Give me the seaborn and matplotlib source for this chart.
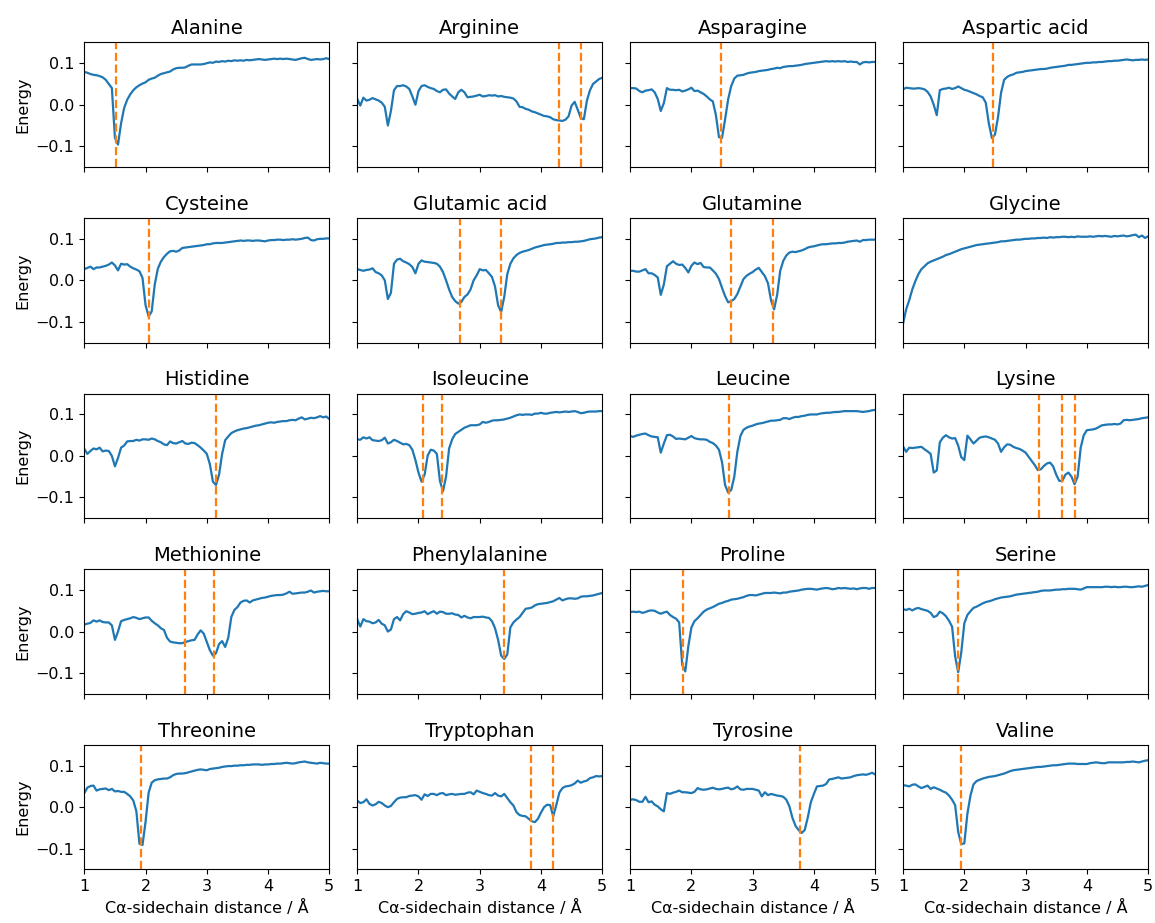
import numpy as np
import matplotlib
matplotlib.use("Agg")
import matplotlib.pyplot as plt
import seaborn as sns

# sampling positions along the C-alpha / sidechain distance (Å)
distance = np.round(np.linspace(1.0, 5.0, 81), 2)

names = ["Alanine", "Arginine", "Asparagine", "Aspartic acid",
         "Cysteine", "Glutamic acid", "Glutamine", "Glycine",
         "Histidine", "Isoleucine", "Leucine", "Lysine",
         "Methionine", "Phenylalanine", "Proline", "Serine",
         "Threonine", "Tryptophan", "Tyrosine", "Valine"]

# energy curves, one value every 0.05 Å from 1.00 to 5.00
alanine = [0.079, 0.077, 0.074, 0.072, 0.071, 0.069, 0.066, 0.060, 0.050, 0.040,
           -0.080, -0.096, -0.045, -0.008, 0.012, 0.025, 0.035, 0.042, 0.047, 0.051,
           0.054, 0.060, 0.063, 0.065, 0.070, 0.074, 0.076, 0.078, 0.080, 0.085,
           0.088, 0.089, 0.089, 0.090, 0.094, 0.097, 0.097, 0.097, 0.097, 0.098,
           0.100, 0.102, 0.101, 0.104, 0.103, 0.105, 0.104, 0.106, 0.105, 0.107,
           0.106, 0.107, 0.106, 0.108, 0.107, 0.108, 0.109, 0.110, 0.109, 0.108,
           0.109, 0.110, 0.111, 0.110, 0.111, 0.110, 0.111, 0.110, 0.109, 0.108,
           0.110, 0.112, 0.113, 0.110, 0.108, 0.109, 0.110, 0.109, 0.110, 0.112,
           0.110]
arginine = [0.014, -0.002, 0.017, 0.010, 0.012, 0.016, 0.013, 0.010, 0.005, -0.005,
            -0.050, -0.015, 0.035, 0.045, 0.045, 0.047, 0.044, 0.038, 0.020, 0.000,
            0.033, 0.045, 0.047, 0.043, 0.040, 0.038, 0.033, 0.030, 0.036, 0.037,
            0.027, 0.020, 0.014, 0.030, 0.036, 0.030, 0.018, 0.019, 0.020, 0.022,
            0.024, 0.020, 0.021, 0.023, 0.022, 0.023, 0.020, 0.021, 0.019, 0.018,
            0.017, 0.015, 0.008, -0.005, -0.006, -0.010, -0.012, -0.016, -0.018, -0.021,
            -0.024, -0.027, -0.028, -0.030, -0.035, -0.037, -0.038, -0.039, -0.036, -0.028,
            -0.002, 0.007, -0.012, -0.032, -0.035, 0.010, 0.035, 0.050, 0.056, 0.062,
            0.065]
asparagine = [0.040, 0.040, 0.039, 0.033, 0.030, 0.034, 0.035, 0.037, 0.030, 0.014,
              -0.015, 0.004, 0.040, 0.036, 0.036, 0.035, 0.036, 0.032, 0.034, 0.037,
              0.041, 0.033, 0.034, 0.030, 0.026, 0.020, 0.013, 0.008, -0.025, -0.078,
              -0.080, -0.035, 0.013, 0.045, 0.063, 0.070, 0.071, 0.072, 0.075, 0.077,
              0.078, 0.079, 0.081, 0.082, 0.083, 0.084, 0.086, 0.087, 0.089, 0.088,
              0.091, 0.092, 0.093, 0.093, 0.094, 0.095, 0.096, 0.098, 0.099, 0.100,
              0.101, 0.102, 0.103, 0.104, 0.105, 0.104, 0.105, 0.104, 0.105, 0.104,
              0.105, 0.103, 0.104, 0.103, 0.103, 0.097, 0.102, 0.103, 0.102, 0.103,
              0.103]
aspartic_acid = [0.037, 0.041, 0.040, 0.039, 0.039, 0.040, 0.039, 0.037, 0.031, 0.020,
                 0.000, -0.025, 0.035, 0.038, 0.039, 0.041, 0.038, 0.040, 0.044, 0.040,
                 0.036, 0.034, 0.031, 0.028, 0.025, 0.021, 0.018, 0.005, -0.045, -0.080,
                 -0.072, -0.030, 0.029, 0.060, 0.067, 0.071, 0.073, 0.077, 0.078, 0.079,
                 0.081, 0.082, 0.083, 0.084, 0.085, 0.086, 0.086, 0.087, 0.089, 0.090,
                 0.091, 0.092, 0.093, 0.094, 0.096, 0.096, 0.097, 0.098, 0.099, 0.100,
                 0.101, 0.101, 0.102, 0.102, 0.103, 0.103, 0.104, 0.105, 0.105, 0.106,
                 0.106, 0.107, 0.108, 0.109, 0.108, 0.107, 0.108, 0.108, 0.109, 0.108,
                 0.109]
cysteine = [0.027, 0.030, 0.033, 0.027, 0.031, 0.031, 0.033, 0.035, 0.038, 0.043,
            0.036, 0.024, 0.040, 0.038, 0.039, 0.033, 0.029, 0.026, 0.022, 0.006,
            -0.060, -0.087, -0.075, -0.010, 0.028, 0.045, 0.056, 0.064, 0.070, 0.071,
            0.069, 0.072, 0.078, 0.079, 0.080, 0.081, 0.082, 0.083, 0.084, 0.085,
            0.087, 0.087, 0.089, 0.090, 0.090, 0.090, 0.091, 0.092, 0.093, 0.094,
            0.095, 0.096, 0.095, 0.096, 0.096, 0.095, 0.096, 0.096, 0.095, 0.094,
            0.096, 0.097, 0.097, 0.098, 0.098, 0.097, 0.098, 0.098, 0.099, 0.098,
            0.099, 0.100, 0.102, 0.103, 0.097, 0.096, 0.099, 0.100, 0.100, 0.101,
            0.101]
glutamic_acid = [0.027, 0.025, 0.023, 0.025, 0.026, 0.029, 0.020, 0.017, 0.012, 0.000,
                 -0.045, -0.030, 0.040, 0.050, 0.052, 0.046, 0.043, 0.039, 0.032, 0.017,
                 0.040, 0.048, 0.045, 0.044, 0.043, 0.042, 0.040, 0.033, 0.020, 0.000,
                 -0.022, -0.040, -0.050, -0.056, -0.052, -0.040, -0.034, -0.022, 0.000, 0.012,
                 0.027, 0.024, 0.025, 0.017, 0.008, -0.015, -0.060, -0.076, -0.040, 0.015,
                 0.040, 0.053, 0.061, 0.066, 0.069, 0.071, 0.073, 0.076, 0.079, 0.081,
                 0.083, 0.085, 0.086, 0.087, 0.088, 0.090, 0.090, 0.091, 0.091, 0.092,
                 0.092, 0.093, 0.093, 0.094, 0.095, 0.097, 0.099, 0.100, 0.101, 0.103,
                 0.104]
glutamine = [0.023, 0.023, 0.021, 0.021, 0.024, 0.027, 0.017, 0.017, 0.013, 0.007,
             -0.035, -0.010, 0.034, 0.040, 0.046, 0.040, 0.037, 0.038, 0.030, 0.019,
             0.035, 0.043, 0.039, 0.042, 0.032, 0.031, 0.031, 0.024, 0.016, 0.003,
             -0.018, -0.038, -0.053, -0.050, -0.045, -0.033, -0.015, 0.003, 0.011, 0.016,
             0.020, 0.026, 0.030, 0.020, 0.010, -0.007, -0.048, -0.070, -0.035, 0.023,
             0.047, 0.060, 0.067, 0.069, 0.068, 0.070, 0.072, 0.075, 0.079, 0.081,
             0.082, 0.084, 0.086, 0.087, 0.087, 0.088, 0.089, 0.089, 0.090, 0.090,
             0.091, 0.093, 0.094, 0.095, 0.096, 0.093, 0.097, 0.097, 0.098, 0.098,
             0.098]
glycine = [-0.104, -0.070, -0.048, -0.022, -0.002, 0.015, 0.027, 0.034, 0.041, 0.045,
           0.048, 0.051, 0.054, 0.057, 0.061, 0.063, 0.066, 0.069, 0.072, 0.075,
           0.077, 0.079, 0.081, 0.083, 0.085, 0.086, 0.087, 0.088, 0.089, 0.090,
           0.091, 0.092, 0.094, 0.094, 0.095, 0.096, 0.097, 0.098, 0.098, 0.099,
           0.100, 0.100, 0.101, 0.101, 0.102, 0.102, 0.103, 0.102, 0.104, 0.103,
           0.104, 0.104, 0.105, 0.105, 0.104, 0.105, 0.104, 0.106, 0.105, 0.105,
           0.105, 0.106, 0.105, 0.106, 0.107, 0.106, 0.107, 0.106, 0.105, 0.107,
           0.106, 0.107, 0.108, 0.106, 0.107, 0.109, 0.110, 0.104, 0.108, 0.102,
           0.106]
histidine = [0.017, 0.005, 0.012, 0.018, 0.016, 0.020, 0.011, 0.013, 0.012, 0.000,
             -0.025, -0.005, 0.020, 0.025, 0.035, 0.036, 0.036, 0.039, 0.037, 0.040,
             0.040, 0.039, 0.042, 0.040, 0.036, 0.033, 0.028, 0.026, 0.035, 0.031,
             0.030, 0.033, 0.036, 0.030, 0.029, 0.032, 0.031, 0.026, 0.020, 0.013,
             0.005, -0.020, -0.062, -0.070, -0.045, 0.005, 0.038, 0.047, 0.055, 0.059,
             0.062, 0.064, 0.066, 0.067, 0.069, 0.071, 0.073, 0.074, 0.076, 0.078,
             0.080, 0.081, 0.080, 0.082, 0.083, 0.084, 0.084, 0.086, 0.087, 0.086,
             0.090, 0.093, 0.088, 0.090, 0.092, 0.091, 0.093, 0.096, 0.093, 0.095,
             0.089]
isoleucine = [0.040, 0.039, 0.045, 0.042, 0.045, 0.038, 0.037, 0.036, 0.038, 0.044,
              0.030, 0.033, 0.039, 0.036, 0.032, 0.028, 0.029, 0.026, 0.015, -0.010,
              -0.040, -0.062, -0.045, 0.001, 0.015, 0.013, 0.005, -0.060, -0.085, -0.050,
              0.018, 0.040, 0.053, 0.058, 0.063, 0.068, 0.071, 0.074, 0.074, 0.074,
              0.076, 0.082, 0.080, 0.082, 0.085, 0.086, 0.086, 0.087, 0.088, 0.090,
              0.092, 0.095, 0.098, 0.100, 0.099, 0.100, 0.100, 0.099, 0.102, 0.102,
              0.104, 0.102, 0.102, 0.104, 0.105, 0.106, 0.105, 0.106, 0.107, 0.106,
              0.107, 0.108, 0.106, 0.103, 0.104, 0.106, 0.107, 0.107, 0.107, 0.108,
              0.108]
leucine = [0.048, 0.046, 0.049, 0.051, 0.053, 0.054, 0.050, 0.047, 0.046, 0.045,
           0.008, 0.030, 0.050, 0.051, 0.047, 0.041, 0.042, 0.041, 0.040, 0.044,
           0.048, 0.043, 0.041, 0.040, 0.040, 0.039, 0.034, 0.031, 0.025, 0.015,
           -0.015, -0.070, -0.088, -0.082, -0.050, 0.010, 0.048, 0.063, 0.068, 0.071,
           0.073, 0.076, 0.078, 0.079, 0.081, 0.083, 0.085, 0.085, 0.086, 0.087,
           0.091, 0.091, 0.089, 0.092, 0.094, 0.094, 0.096, 0.097, 0.099, 0.100,
           0.100, 0.100, 0.102, 0.103, 0.104, 0.104, 0.105, 0.106, 0.106, 0.107,
           0.108, 0.108, 0.108, 0.108, 0.108, 0.107, 0.106, 0.107, 0.108, 0.110,
           0.111]
lysine = [0.023, 0.010, 0.020, 0.019, 0.020, 0.021, 0.022, 0.016, 0.011, 0.005,
          -0.040, -0.035, 0.033, 0.044, 0.050, 0.045, 0.042, 0.043, 0.025, -0.003,
          -0.010, 0.049, 0.040, 0.030, 0.037, 0.044, 0.046, 0.047, 0.045, 0.042,
          0.039, 0.030, 0.010, 0.021, 0.028, 0.027, 0.022, 0.019, 0.017, 0.013,
          0.008, -0.002, -0.012, -0.022, -0.034, -0.032, -0.024, -0.018, -0.016, -0.025,
          -0.045, -0.060, -0.060, -0.045, -0.040, -0.050, -0.068, -0.050, 0.020, 0.050,
          0.062, 0.063, 0.064, 0.066, 0.070, 0.074, 0.075, 0.076, 0.076, 0.077,
          0.076, 0.078, 0.086, 0.087, 0.086, 0.087, 0.088, 0.089, 0.091, 0.092,
          0.093]
methionine = [0.017, 0.019, 0.021, 0.027, 0.024, 0.027, 0.023, 0.022, 0.022, 0.015,
              -0.020, 0.000, 0.025, 0.028, 0.030, 0.032, 0.035, 0.033, 0.030, 0.032,
              0.034, 0.034, 0.026, 0.020, 0.015, 0.008, 0.004, -0.015, -0.024, -0.026,
              -0.027, -0.028, -0.028, -0.025, -0.023, -0.021, -0.020, -0.007, 0.003, -0.005,
              -0.025, -0.045, -0.058, -0.052, -0.030, -0.023, -0.037, -0.015, 0.035, 0.052,
              0.059, 0.070, 0.074, 0.075, 0.070, 0.075, 0.077, 0.079, 0.081, 0.082,
              0.084, 0.086, 0.087, 0.088, 0.088, 0.089, 0.092, 0.096, 0.091, 0.092,
              0.093, 0.094, 0.094, 0.096, 0.099, 0.094, 0.096, 0.097, 0.098, 0.097,
              0.097]
phenylalanine = [0.030, 0.012, 0.030, 0.025, 0.024, 0.020, 0.022, 0.028, 0.019, 0.015,
                 0.000, 0.005, 0.030, 0.035, 0.027, 0.042, 0.049, 0.046, 0.042, 0.043,
                 0.045, 0.046, 0.049, 0.042, 0.046, 0.049, 0.043, 0.048, 0.047, 0.043,
                 0.043, 0.044, 0.041, 0.040, 0.034, 0.038, 0.034, 0.032, 0.035, 0.035,
                 0.035, 0.036, 0.034, 0.033, 0.025, 0.008, -0.020, -0.058, -0.066, -0.055,
                 0.010, 0.022, 0.029, 0.035, 0.045, 0.055, 0.056, 0.058, 0.063, 0.066,
                 0.067, 0.068, 0.069, 0.071, 0.073, 0.077, 0.081, 0.075, 0.078, 0.080,
                 0.080, 0.079, 0.080, 0.084, 0.085, 0.085, 0.086, 0.087, 0.089, 0.091,
                 0.093]
proline = [0.047, 0.048, 0.047, 0.048, 0.045, 0.047, 0.050, 0.051, 0.050, 0.046,
           0.043, 0.046, 0.048, 0.040, 0.035, 0.031, 0.022, -0.080, -0.096, -0.035,
           0.010, 0.025, 0.032, 0.040, 0.048, 0.053, 0.056, 0.059, 0.063, 0.067,
           0.069, 0.072, 0.074, 0.077, 0.078, 0.079, 0.081, 0.083, 0.086, 0.088,
           0.088, 0.087, 0.089, 0.091, 0.093, 0.093, 0.093, 0.094, 0.093, 0.092,
           0.094, 0.094, 0.096, 0.097, 0.098, 0.099, 0.101, 0.102, 0.103, 0.103,
           0.102, 0.101, 0.103, 0.104, 0.105, 0.104, 0.102, 0.103, 0.105, 0.104,
           0.105, 0.104, 0.103, 0.104, 0.102, 0.104, 0.105, 0.105, 0.103, 0.105,
           0.105]
serine = [0.054, 0.052, 0.055, 0.051, 0.055, 0.057, 0.054, 0.052, 0.050, 0.045,
          0.035, 0.038, 0.048, 0.044, 0.037, 0.026, 0.012, -0.060, -0.098, -0.050,
          0.020, 0.040, 0.049, 0.057, 0.060, 0.064, 0.068, 0.071, 0.073, 0.075,
          0.078, 0.080, 0.082, 0.083, 0.084, 0.085, 0.087, 0.089, 0.090, 0.091,
          0.092, 0.093, 0.094, 0.095, 0.096, 0.098, 0.099, 0.099, 0.099, 0.100,
          0.101, 0.101, 0.102, 0.102, 0.103, 0.103, 0.103, 0.102, 0.101, 0.104,
          0.107, 0.107, 0.107, 0.107, 0.107, 0.107, 0.108, 0.108, 0.107, 0.108,
          0.107, 0.107, 0.108, 0.108, 0.107, 0.107, 0.108, 0.109, 0.108, 0.110,
          0.112]
threonine = [0.034, 0.047, 0.051, 0.052, 0.040, 0.043, 0.044, 0.045, 0.041, 0.044,
             0.038, 0.039, 0.037, 0.037, 0.032, 0.026, 0.016, -0.010, -0.088, -0.091,
             -0.035, 0.035, 0.059, 0.065, 0.067, 0.068, 0.069, 0.069, 0.072, 0.077,
             0.080, 0.081, 0.081, 0.082, 0.084, 0.086, 0.088, 0.090, 0.091, 0.090,
             0.089, 0.092, 0.093, 0.094, 0.095, 0.097, 0.098, 0.099, 0.099, 0.100,
             0.100, 0.101, 0.101, 0.102, 0.102, 0.103, 0.103, 0.103, 0.102, 0.103,
             0.103, 0.104, 0.104, 0.105, 0.105, 0.106, 0.107, 0.106, 0.105, 0.106,
             0.108, 0.109, 0.110, 0.108, 0.107, 0.106, 0.105, 0.107, 0.106, 0.105,
             0.105]
tryptophan = [0.016, 0.010, 0.012, 0.019, 0.008, 0.004, 0.007, 0.013, 0.010, 0.004,
              0.000, 0.003, 0.012, 0.020, 0.023, 0.024, 0.024, 0.027, 0.028, 0.029,
              0.026, 0.018, 0.031, 0.027, 0.032, 0.032, 0.029, 0.033, 0.034, 0.029,
              0.031, 0.032, 0.030, 0.031, 0.032, 0.032, 0.035, 0.036, 0.031, 0.040,
              0.037, 0.034, 0.032, 0.029, 0.028, 0.034, 0.028, 0.026, 0.032, 0.022,
              0.012, 0.004, -0.012, -0.019, -0.021, -0.022, -0.028, -0.034, -0.036, -0.028,
              -0.013, 0.000, 0.006, 0.005, -0.022, 0.005, 0.035, 0.046, 0.050, 0.051,
              0.053, 0.057, 0.064, 0.059, 0.062, 0.064, 0.070, 0.072, 0.075, 0.074,
              0.075]
tyrosine = [0.018, 0.019, 0.017, 0.013, 0.013, 0.025, 0.012, 0.014, 0.006, 0.002,
            -0.005, -0.010, 0.034, 0.032, 0.035, 0.037, 0.040, 0.036, 0.036, 0.035,
            0.034, 0.037, 0.046, 0.043, 0.042, 0.043, 0.045, 0.047, 0.044, 0.043,
            0.044, 0.046, 0.047, 0.043, 0.045, 0.050, 0.043, 0.042, 0.044, 0.044,
            0.044, 0.042, 0.040, 0.026, 0.036, 0.029, 0.032, 0.030, 0.028, 0.027,
            0.025, 0.018, 0.002, -0.026, -0.045, -0.055, -0.062, -0.055, -0.025, 0.012,
            0.032, 0.050, 0.051, 0.052, 0.056, 0.067, 0.068, 0.070, 0.072, 0.069,
            0.070, 0.071, 0.072, 0.075, 0.077, 0.078, 0.079, 0.078, 0.080, 0.083,
            0.079]
valine = [0.053, 0.052, 0.050, 0.054, 0.055, 0.050, 0.046, 0.049, 0.052, 0.044,
          0.048, 0.045, 0.042, 0.038, 0.035, 0.028, 0.018, 0.005, -0.060, -0.089,
          -0.087, -0.016, 0.028, 0.055, 0.063, 0.066, 0.069, 0.071, 0.073, 0.074,
          0.075, 0.077, 0.079, 0.081, 0.084, 0.087, 0.089, 0.090, 0.091, 0.092,
          0.093, 0.094, 0.095, 0.096, 0.097, 0.097, 0.098, 0.099, 0.100, 0.101,
          0.101, 0.102, 0.103, 0.104, 0.105, 0.105, 0.105, 0.104, 0.104, 0.104,
          0.104, 0.106, 0.107, 0.108, 0.107, 0.106, 0.106, 0.108, 0.108, 0.108,
          0.108, 0.108, 0.108, 0.109, 0.109, 0.110, 0.109, 0.108, 0.110, 0.112,
          0.113]

curves = [alanine, arginine, asparagine, aspartic_acid,
          cysteine, glutamic_acid, glutamine, glycine,
          histidine, isoleucine, leucine, lysine,
          methionine, phenylalanine, proline, serine,
          threonine, tryptophan, tyrosine, valine]

# positions of the marked minima (dashed lines)
minima = [[1.52], [4.30, 4.65], [2.48], [2.46],
          [2.06], [2.67, 3.34], [2.65, 3.34], [],
          [3.15], [2.07, 2.39], [2.62], [3.22, 3.60, 3.80],
          [2.64, 3.12], [3.39], [1.87], [1.90],
          [1.92], [3.84, 4.20], [3.78], [1.95]]

plt.rcParams["font.family"] = ["DejaVu Sans"]
plt.rcParams["font.size"] = 11.5

fig, axes = plt.subplots(5, 4, figsize=(11.55, 9.23), dpi=100,
                         sharex=True, sharey=True)
fig.subplots_adjust(left=0.073, right=0.994, top=0.954, bottom=0.058,
                    wspace=0.114, hspace=0.41)

for ax, name, energy, marks in zip(axes.flat, names, curves, minima):
    sns.lineplot(x=distance, y=energy, ax=ax, color="#1f77b4", linewidth=1.6)
    for m in marks:
        ax.axvline(m, color="#ff7f0e", linestyle="--", linewidth=1.6)
    ax.set_title(name, fontsize=14)
    ax.set_xlim(1, 5)
    ax.set_ylim(-0.15, 0.15)
    ax.set_xticks([1, 2, 3, 4, 5])
    ax.set_yticks([-0.1, 0.0, 0.1])

for ax in axes[:, 0]:
    ax.set_ylabel("Energy")
for ax in axes[-1, :]:
    ax.set_xlabel("Cα-sidechain distance / Å")

fig.savefig("out.png", dpi=100)
